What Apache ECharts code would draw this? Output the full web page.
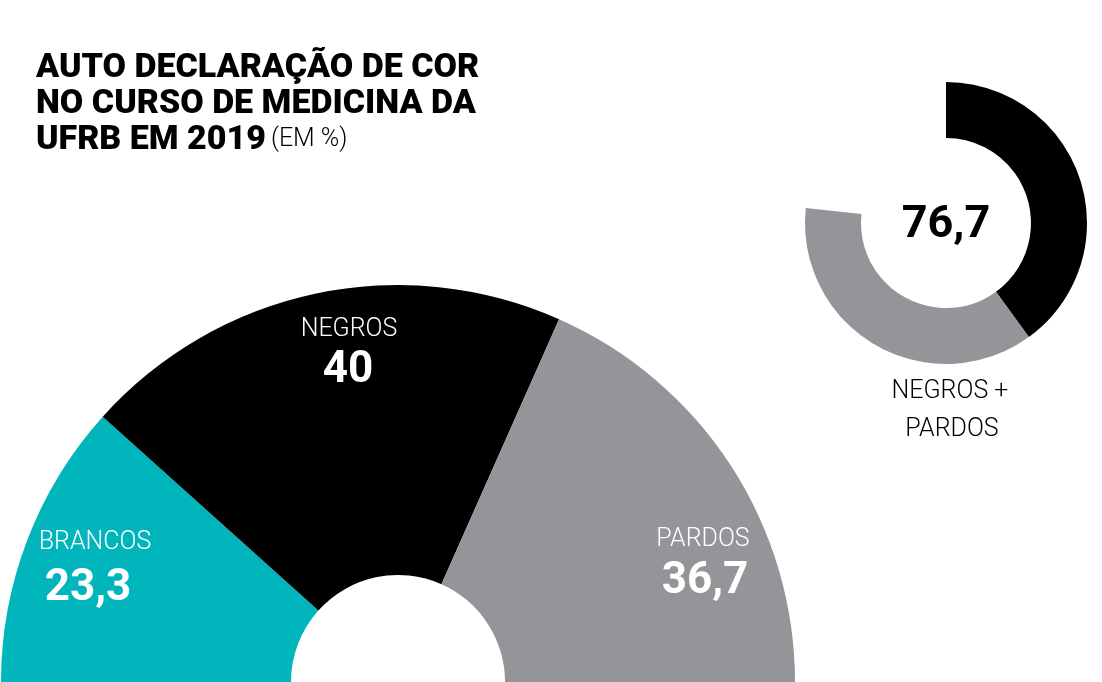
<!DOCTYPE html>
<html>
<head>
<meta charset="utf-8">
<script src="https://cdn.jsdelivr.net/npm/echarts@6/dist/echarts.min.js"></script>
<style>
html,body{margin:0;padding:0;background:#fff;}
#c{width:1102px;height:682px;}
</style>
</head>
<body>
<div id="c"></div>
<script>
// ---- data ----
var categories = ['BRANCOS', 'NEGROS', 'PARDOS'];
var values = [23.3, 40, 36.7];
var colors = ['#00b6bc', '#000000', '#939598'];
var comboCategories = ['NEGROS', 'PARDOS', 'OUTROS'];
var comboValues = [40, 36.7, 23.3];
var comboColors = ['#000000', '#939598', 'rgba(0,0,0,0)'];
var titleLines = ['AUTO DECLARAÇÃO DE COR', 'NO CURSO DE MEDICINA DA', 'UFRB EM 2019'];
var titleUnit = '(EM %)';
var comboLabel = ['NEGROS +', 'PARDOS'];

function fmt(v){ return (Math.round(v*10)/10).toString().replace('.', ','); }

var chart = echarts.init(document.getElementById('c'));

var labelPos = [
  {name:[95,543], val:[88,589]},
  {name:[349,330], val:[348,371]},
  {name:[703,540], val:[705,582]}
];
var graphics = [];
categories.forEach(function(c, i){
  graphics.push({type:'text', x:labelPos[i].name[0], y:labelPos[i].name[1], z:10,
    style:{text:c, fill:'#fff', font:'300 25px Roboto', textAlign:'center', textVerticalAlign:'middle'}});
  graphics.push({type:'text', x:labelPos[i].val[0], y:labelPos[i].val[1], z:10,
    style:{text:fmt(values[i]), fill:'#fff', font:'bold 44px Roboto', textAlign:'center', textVerticalAlign:'middle'}});
});
graphics.push({type:'text', x:946, y:226, z:10,
  style:{text:fmt(comboValues[0]+comboValues[1]), fill:'#000', font:'bold 45px Roboto', textAlign:'center', textVerticalAlign:'middle'}});
graphics.push({type:'text', x:950, y:392, z:10,
  style:{text:comboLabel[0], fill:'#000', font:'300 25px Roboto', textAlign:'center', textVerticalAlign:'middle'}});
graphics.push({type:'text', x:952, y:430, z:10,
  style:{text:comboLabel[1], fill:'#000', font:'300 25px Roboto', textAlign:'center', textVerticalAlign:'middle'}});

chart.setOption({
  animation:false,
  backgroundColor:'#fff',
  title:{
    left:36, top:50, padding:0,
    text:'{b|'+titleLines[0]+'}\n{b|'+titleLines[1]+'}\n{b|'+titleLines[2]+'} {n|'+titleUnit+'}',
    textStyle:{
      rich:{
        b:{fontFamily:'Roboto', fontWeight:900, fontSize:34, color:'#000', lineHeight:36},
        n:{fontFamily:'Roboto', fontWeight:300, fontSize:25, color:'#000', lineHeight:36}
      }
    }
  },
  series:[
    {
      type:'pie', center:[398,682], radius:[107,397], startAngle:180, endAngle:0,
      clockwise:true, silent:true, label:{show:false}, labelLine:{show:false},
      itemStyle:{borderWidth:0},
      data: categories.map(function(c,i){ return {name:c, value:values[i], itemStyle:{color:colors[i]}}; })
    },
    {
      type:'pie', center:[946,223], radius:[85,141], startAngle:90,
      clockwise:true, silent:true, label:{show:false}, labelLine:{show:false},
      itemStyle:{borderWidth:0},
      data: comboCategories.map(function(c,i){ return {name:c, value:comboValues[i], itemStyle:{color:comboColors[i]}}; })
    }
  ],
  graphic: graphics
});
</script>
</body>
</html>
